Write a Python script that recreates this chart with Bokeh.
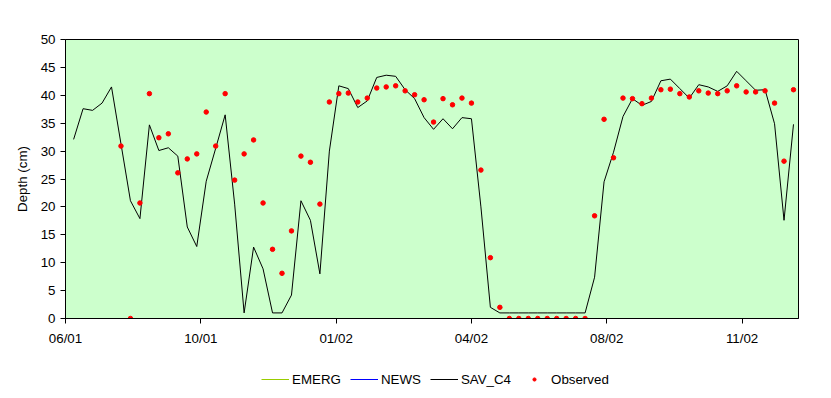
import pandas as pd
from bokeh.plotting import figure
from bokeh.layouts import column
from bokeh.models import (ColumnDataSource, Range1d, FixedTicker,
                          DatetimeTickFormatter, Legend, LegendItem)
from bokeh.embed import file_html
from bokeh.resources import INLINE

NaN = float("nan")

# weekly sampling dates
dates = pd.date_range("2001-07-04", periods=77, freq="7D")

sav_c4 = [32.1, 37.6, 37.3, 38.6, 41.5, 31.3, 21.1, 17.9, 34.7, 30.1,
          30.6, 29.1, 16.4, 12.9, 24.6, 30.5, 36.5, 20.5, 1.0, 12.8,
          8.9, 1.0, 1.0, 4.2, 21.1, 17.6, 8.0, 30.0, 41.7, 41.2,
          37.8, 39.0, 43.2, 43.6, 43.4, 41.0, 39.4, 36.0, 33.9, 35.8,
          34.0, 36.0, 35.8, 20.0, 2.0, 1.0, 1.0, 1.0, 1.0, 1.0,
          1.0, 1.0, 1.0, 1.0, 1.0, 7.4, 24.5, 29.8, 36.2, 39.4,
          38.2, 38.9, 42.6, 42.9, 41.2, 39.5, 41.9, 41.5, 40.7, 41.7,
          44.3, 42.6, 40.9, 41.0, 34.9, 17.6, 34.8]

observed = [NaN, NaN, NaN, NaN, NaN, 30.9, 0.0, 20.7, 40.3, 32.4,
            33.1, 26.1, 28.6, 29.5, 37.0, 30.9, 40.3, 24.8, 29.5, 32.0,
            20.7, 12.4, 8.1, 15.7, 29.1, 28.0, 20.5, 38.8, 40.3, 40.4,
            38.8, 39.5, 41.3, 41.5, 41.7, 40.8, 40.1, 39.2, 35.2, 39.4,
            38.3, 39.5, 38.6, 26.6, 10.9, 2.0, 0.0, 0.0, 0.0, 0.0,
            0.0, 0.0, 0.0, 0.0, 0.0, 18.4, 35.7, 28.8, 39.5, 39.4,
            38.5, 39.5, 41.0, 41.1, 40.3, 39.7, 40.8, 40.4, 40.3, 40.8,
            41.7, 40.6, 40.6, 40.8, 38.6, 28.2, 41.0]

series_names = ["EMERG", "NEWS", "SAV_C4", "Observed"]
series_colors = ["#99CC00", "#0000FF", "black", "#FF0000"]
tick_dates = pd.to_datetime(["2001-06-28", "2001-10-06", "2002-01-14",
                             "2002-04-24", "2002-08-02", "2002-11-10"])
axis_start = pd.Timestamp("2001-06-28")
axis_end = axis_start + pd.Timedelta(days=541.7)

FONT = "Liberation Sans"
FS = "10pt"

src = ColumnDataSource(dict(date=dates, sav=sav_c4, obs=observed))

# ---- main chart ----
p = figure(width=831, height=358, x_axis_type="datetime",
           output_backend="svg", toolbar_location=None,
           x_range=Range1d(axis_start, axis_end), y_range=Range1d(0, 50),
           min_border_left=65, min_border_right=33, min_border_top=39,
           min_border_bottom=40)
p.background_fill_color = "#CCFFCC"
p.border_fill_color = "white"
p.outline_line_color = "black"
p.outline_line_width = 1
p.xgrid.visible = False
p.ygrid.visible = False

p.line("date", "sav", source=src, line_color=series_colors[2], line_width=1)
p.scatter("date", "obs", source=src, size=4.5, color=series_colors[3],
          line_color=series_colors[3])

xa = p.xaxis[0]
xa.ticker = FixedTicker(ticks=[t.value / 1e6 for t in tick_dates])
fmt = "%m/%y"
xa.formatter = DatetimeTickFormatter(milliseconds=fmt, seconds=fmt,
                                     minsec=fmt, minutes=fmt, hourmin=fmt,
                                     hours=fmt, days=fmt, months=fmt,
                                     years=fmt)
ya = p.yaxis[0]
ya.ticker = FixedTicker(ticks=list(range(0, 51, 5)))
ya.axis_label = "Depth (cm)"

for ax in (xa, ya):
    ax.major_label_text_font = FONT
    ax.major_label_text_font_size = FS
    ax.major_label_text_color = "black"
    ax.axis_line_color = "black"
    ax.major_tick_line_color = "black"
    ax.major_tick_out = 5
    ax.major_tick_in = 0
    ax.minor_tick_line_color = None
    ax.axis_label_text_font = FONT
    ax.axis_label_text_font_size = FS
    ax.axis_label_text_font_style = "normal"
    ax.axis_label_text_color = "black"
xa.major_label_standoff = 7
ya.major_label_standoff = 5
ya.axis_label_standoff = 8

# ---- legend strip (its renderers sit outside the visible y range) ----
lg = figure(width=831, height=40, output_backend="svg", toolbar_location=None,
            x_range=p.x_range, y_range=Range1d(1000, 1001),
            x_axis_location=None, y_axis_location=None,
            min_border_left=65, min_border_right=33, min_border_top=0,
            min_border_bottom=0)
lg.outline_line_color = None
lg.background_fill_color = "white"
lg.xgrid.visible = False
lg.ygrid.visible = False
lr = [lg.line("date", "sav", source=src, line_color=series_colors[0],
              line_width=1),
      lg.line("date", "sav", source=src, line_color=series_colors[1],
              line_width=1),
      lg.line("date", "sav", source=src, line_color=series_colors[2],
              line_width=1),
      lg.scatter("date", "obs", source=src, size=3.5,
                 color=series_colors[3])]
legend = Legend(items=[LegendItem(label=n, renderers=[r])
                       for n, r in zip(series_names, lr)],
                orientation="horizontal", location=(196, 9),
                glyph_width=28, glyph_height=8, label_standoff=3, spacing=9,
                padding=0, margin=0, border_line_color=None,
                background_fill_alpha=0, label_text_font=FONT,
                label_text_font_size=FS, label_height=20,
                label_text_color="black")
lg.add_layout(legend, "center")

layout = column(p, lg, spacing=0)
open("out.html", "w").write(file_html(layout, INLINE))
